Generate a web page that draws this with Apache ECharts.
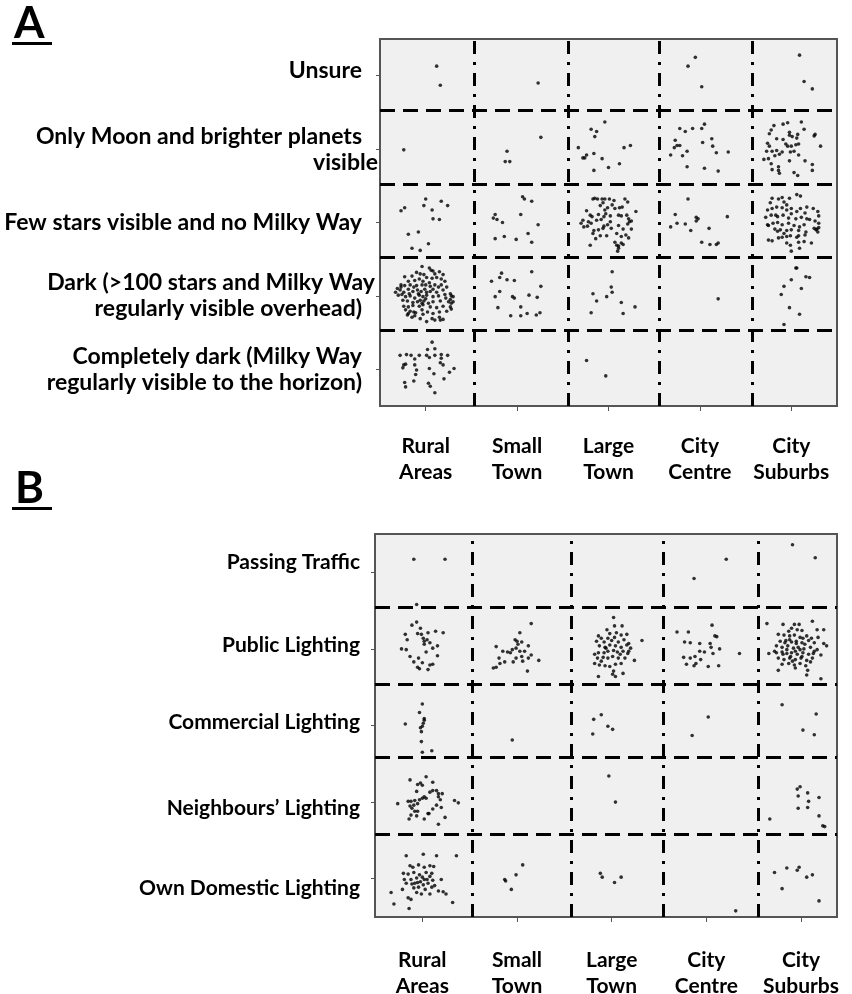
<!DOCTYPE html>
<html><head><meta charset="utf-8">
<script src="https://cdn.jsdelivr.net/npm/echarts@6/dist/echarts.min.js"></script>
<style>html,body{margin:0;padding:0;background:#fff}#c{width:852px;height:994px}</style>
</head><body><div id="c"></div>
<script>
// ---------- categories / labels ----------
const xCategories = ['Rural\nAreas', 'Small\nTown', 'Large\nTown', 'City\nCentre', 'City\nSuburbs'];
const yLabelsA = ['Completely dark (Milky Way\nregularly visible to the horizon)', 'Dark (>100 stars and Milky Way\nregularly visible overhead)', 'Few stars visible and no Milky Way', 'Only Moon and brighter planets\nvisible', 'Unsure'];
const yLabelsB = ['Own Domestic Lighting', 'Neighbours\u2019 Lighting', 'Commercial Lighting', 'Public Lighting', 'Passing Traffic'];
const tickValues = [1, 2, 3, 4, 5];
const colBoundsA = [1.53, 2.56, 3.55, 4.57];
const rowBoundsA = [1.53, 2.53, 3.52, 4.53];
const colBoundsB = [1.535, 2.57, 3.545, 4.555];
const rowBoundsB = [1.58, 2.575, 3.545, 4.555];

// ---------- Panel A points [location (jittered), response (jittered)] ----------
const A_unsure = [[1.12,5.13],[1.16,4.87],[2.23,4.90],[3.95,5.25],[3.87,5.13],[4.02,4.85],[5.09,5.28],[5.14,4.92],[5.23,4.82]];
const A_moon = [[0.76,3.99],[1.89,3.97],[1.87,3.83],[1.92,3.83],[2.26,4.16],
[2.96,4.37],[2.81,4.27],[2.87,4.24],[2.85,4.17],[2.67,4.02],[2.76,3.92],[2.72,3.88],[2.74,3.88],[2.84,3.94],[2.93,3.87],[2.84,3.71],[3.00,3.75],[3.12,3.80],[3.17,4.02],[3.24,4.05],
[3.78,4.28],[3.84,4.24],[3.92,4.28],[4.02,4.28],[4.05,4.34],[3.73,4.12],[3.75,4.05],[3.78,4.05],[3.72,4.02],[3.86,3.97],[3.81,3.91],[3.68,3.92],[4.03,4.09],[4.13,4.14],[4.14,4.04],[4.18,3.95],[4.31,3.96],[3.86,3.76],[4.05,3.74],[4.20,3.70],
[4.78,4.26],[4.76,4.21],[4.81,4.32],[4.91,4.34],[4.96,4.36],[4.98,4.23],[5.01,4.17],[5.07,4.20],[5.06,4.15],[5.11,4.37],[5.14,4.27],[5.08,4.07],[5.26,4.20],[5.25,4.18],[5.32,4.04],[4.74,4.08],[4.76,4.04],[4.73,3.97],[4.79,3.97],[4.84,3.98],[4.82,3.91],[4.94,4.07],[4.96,4.04],[5.00,4.04],[5.05,4.06],[5.03,3.97],[4.99,3.96],[4.90,3.96],[4.87,3.93],[4.70,3.86],[4.75,3.87],[4.78,3.80],[4.79,3.72],[4.86,3.76],[4.86,3.71],[4.87,3.67],[4.98,3.84],[5.03,3.68],[5.07,3.64],[5.15,3.84],[5.23,3.79],[5.23,3.71],[4.98,4.19],[4.91,4.13],[4.84,4.14],[5.08,3.92]];
const A_few = [[0.73,3.16],[0.77,3.20],[1.00,3.32],[0.98,3.23],[1.07,3.17],[1.17,3.29],[1.24,3.23],[1.08,3.05],[1.15,3.04],[0.81,2.84],[0.92,2.87],[1.03,2.71],[0.85,2.65],[0.94,2.62],
[2.06,3.35],[2.08,3.32],[2.16,3.29],[1.76,3.11],[1.74,3.06],[1.78,3.04],[1.84,3.00],[2.04,3.11],[2.23,2.97],[1.86,2.81],[1.76,2.78],[1.99,2.77],[2.12,2.85],[2.16,2.73],
[2.83,3.32],[2.85,3.33],[2.88,3.32],[2.93,3.32],[2.96,3.32],[3.01,3.32],[3.06,3.30],[3.18,3.32],[3.21,3.28],[2.91,3.23],[2.94,3.27],[2.99,3.20],[3.07,3.19],[3.12,3.20],[3.15,3.21],[3.30,3.15],[2.76,3.16],[2.80,3.10],[2.82,3.08],[2.89,3.11],[2.95,3.08],[2.97,3.12],[3.02,3.09],[3.11,3.10],[3.14,3.09],[3.20,3.10],[3.22,3.05],[3.23,3.01],[2.70,2.99],[2.72,3.03],[2.78,3.01],[2.81,2.99],[2.87,3.03],[2.92,3.04],[2.95,2.95],[3.02,3.01],[3.11,2.96],[3.21,2.98],[3.25,3.02],[2.84,2.89],[2.83,2.85],[2.89,2.90],[2.94,2.92],[2.98,2.82],[2.91,2.82],[2.86,2.78],[3.09,2.85],[3.14,2.81],[3.19,2.83],[3.22,2.79],[2.80,2.69],[3.07,2.73],[3.09,2.69],[3.11,2.68],[3.14,2.72],[3.16,2.70],[3.11,2.65],[3.10,2.61],[2.96,3.17],[3.04,3.24],[2.73,2.94],[2.77,2.95],[3.25,2.91],[3.16,2.91],[3.03,2.92],[2.99,2.97],
[3.87,3.32],[3.73,3.11],[3.75,2.99],[3.68,2.94],[3.84,2.98],[3.90,2.89],[3.96,3.07],[3.98,3.05],[3.96,3.02],[4.10,2.92],[4.30,3.08],[4.02,2.73],[4.11,2.70],[4.18,2.70],[4.20,2.72],
[4.79,3.33],[4.86,3.32],[4.90,3.34],[4.98,3.33],[5.06,3.38],[5.10,3.36],[4.92,3.28],[4.95,3.24],[4.77,3.27],[4.74,3.17],[4.79,3.19],[4.84,3.21],[4.90,3.20],[4.95,3.17],[5.00,3.19],[5.10,3.19],[5.17,3.21],[5.24,3.19],[5.29,3.15],[5.30,3.09],[4.72,3.07],[4.78,3.10],[4.85,3.08],[4.91,3.10],[5.00,3.12],[5.05,3.05],[5.11,3.07],[5.17,3.05],[5.20,3.04],[4.75,2.96],[4.80,2.99],[4.85,3.00],[4.90,2.97],[4.97,2.99],[5.03,2.96],[5.09,2.94],[5.14,2.97],[5.26,3.02],[5.30,2.99],[4.85,2.88],[4.88,2.90],[4.92,2.85],[4.95,2.89],[5.00,2.90],[5.08,2.89],[5.16,2.87],[5.25,2.92],[5.27,2.90],[5.29,2.87],[4.75,2.76],[4.79,2.75],[4.95,2.81],[4.99,2.82],[5.06,2.80],[5.08,2.82],[5.15,2.83],[4.95,2.72],[4.99,2.69],[5.08,2.73],[5.22,2.72],[5.00,2.61],[5.09,2.65],[5.28,2.91],[5.30,2.93],[4.83,3.10],[4.97,3.06],[5.06,3.15],[5.15,3.13],[4.90,2.80],[4.82,2.91],[5.14,2.74],[4.74,2.97],[4.86,2.79]];
const A_dark = [[0.96,2.40],[1.04,2.38],[1.06,2.35],[1.08,2.34],[0.90,2.32],[0.94,2.30],[0.98,2.29],[1.10,2.30],[1.15,2.33],[1.19,2.29],[0.85,2.27],[0.77,2.26],[1.01,2.25],[1.07,2.24],[1.12,2.25],[1.17,2.23],[1.21,2.20],[0.81,2.20],[0.88,2.21],[0.93,2.23],[0.73,2.15],[0.77,2.14],[0.83,2.15],[0.90,2.14],[0.96,2.15],[1.00,2.15],[1.05,2.13],[1.10,2.15],[1.17,2.15],[1.23,2.12],[0.69,2.10],[0.67,2.05],[0.72,2.08],[0.76,2.05],[0.81,2.09],[0.86,2.06],[0.91,2.08],[0.95,2.06],[0.99,2.09],[1.05,2.06],[1.12,2.05],[1.19,2.08],[1.27,2.03],[1.28,2.00],[0.70,2.01],[0.74,2.02],[0.78,1.99],[0.83,2.00],[0.88,1.97],[0.93,2.01],[0.97,1.99],[1.01,2.01],[1.08,1.99],[1.14,2.00],[1.22,1.97],[1.27,1.95],[0.75,1.94],[0.80,1.93],[0.86,1.91],[0.91,1.92],[0.94,1.94],[0.98,1.93],[1.03,1.90],[1.08,1.92],[1.16,1.93],[1.25,1.92],[1.28,1.90],[0.76,1.86],[0.81,1.85],[0.86,1.87],[0.93,1.86],[0.97,1.88],[1.05,1.85],[1.12,1.84],[1.19,1.86],[1.27,1.85],[0.78,1.81],[0.83,1.79],[0.89,1.77],[0.96,1.81],[1.02,1.78],[1.08,1.76],[1.15,1.78],[1.23,1.79],[1.28,1.82],[0.80,1.74],[0.85,1.71],[0.97,1.75],[1.07,1.69],[1.15,1.71],[1.19,1.68],[1.01,1.65],[0.81,1.76],[0.88,1.73],[0.94,1.69],[1.10,1.67],[1.16,1.67],[0.87,1.78],[0.73,2.12],[0.92,2.03],[1.01,2.05],[1.14,2.12],[1.30,1.99],[1.30,1.92],[1.00,1.96],[0.96,1.90],[0.82,2.03],[1.21,2.02],[1.08,2.09],[1.04,2.18],[0.97,2.20],[0.87,2.12],
[1.83,2.31],[1.81,2.25],[1.72,2.20],[1.89,2.22],[1.97,2.21],[2.16,2.33],[2.26,2.13],[1.81,2.06],[1.76,1.99],[1.95,1.99],[1.97,1.97],[2.13,2.01],[2.22,1.98],[1.79,1.84],[2.04,1.85],[1.93,1.73],[2.04,1.73],[2.11,1.76],[2.21,1.74],[2.25,1.77],
[2.83,2.03],[2.87,1.93],[2.81,1.77],[2.98,1.99],[3.04,2.33],[3.03,2.12],[3.04,2.05],[3.14,1.91],[3.29,1.85],[3.16,1.76],
[4.20,1.96],
[5.05,2.38],[5.06,2.38],[5.16,2.26],[5.20,2.25],[5.00,2.22],[4.92,2.13],[5.11,2.10],[4.89,2.02],[4.98,1.84],[5.09,1.75],[4.92,1.61]];
const A_complete = [[1.07,1.37],[1.10,1.28],[0.72,1.19],[0.79,1.20],[0.84,1.19],[0.88,1.14],[0.93,1.19],[1.02,1.27],[1.04,1.16],[1.10,1.19],[1.17,1.20],[1.24,1.19],[0.76,1.06],[0.75,1.02],[0.78,1.07],[0.88,1.06],[0.90,0.99],[0.89,0.93],[0.87,0.84],[1.04,1.01],[1.09,0.94],[1.16,1.09],[1.19,1.06],[1.26,0.96],[1.31,1.01],[1.20,0.87],[0.77,0.82],[0.78,0.76],[1.03,0.81],[1.05,0.77],[1.10,0.68],[1.01,1.19],[1.17,1.15],
[2.76,1.12],[2.97,0.91]];

// ---------- Panel B points ----------
const B_traffic = [[0.91,5.17],[1.24,5.17],[4.21,5.17],[3.87,4.92],[4.91,5.36],[5.15,5.19]];
const B_public = [[0.94,4.35],[0.89,4.31],[0.98,4.27],[0.82,4.19],[0.84,4.12],[0.95,4.20],[1.06,4.21],[1.14,4.23],[1.22,4.21],[1.01,4.14],[1.05,4.12],[1.08,4.08],[1.02,4.06],[1.16,4.04],[1.11,4.01],[0.78,4.00],[0.83,3.99],[1.04,3.96],[0.87,3.90],[0.96,3.88],[1.16,3.91],[0.91,3.83],[1.00,3.82],[1.08,3.79],[1.11,3.80],[0.95,3.76],[0.97,3.74],[1.06,3.73],[1.02,4.10],[0.99,4.19],[0.94,4.58],
[2.15,4.33],[2.03,4.21],[1.98,4.12],[2.00,4.10],[2.05,4.09],[1.78,4.03],[1.85,3.97],[1.90,3.96],[1.93,3.95],[1.99,4.01],[2.03,3.97],[2.08,3.97],[2.12,4.04],[2.15,3.92],[2.05,3.90],[1.99,3.88],[1.81,3.88],[1.87,3.83],[1.96,3.83],[2.06,3.84],[2.12,3.88],[2.23,3.85],[1.75,3.75],[1.78,3.76],[2.11,3.71],[1.82,3.81],[2.01,4.06],[1.95,3.99],
[3.02,4.41],[3.03,4.30],[3.11,4.30],[2.95,4.25],[2.86,4.17],[2.89,4.14],[2.96,4.14],[3.03,4.15],[3.10,4.18],[3.16,4.19],[3.32,4.11],[2.84,4.10],[2.92,4.09],[3.00,4.11],[3.07,4.09],[3.13,4.12],[3.18,4.07],[2.87,4.04],[2.93,4.02],[2.98,4.05],[3.04,4.04],[3.10,4.02],[3.16,4.05],[3.20,4.01],[2.82,3.93],[2.86,3.95],[2.92,3.95],[2.96,3.97],[3.02,3.98],[3.06,3.96],[3.12,3.97],[3.17,3.94],[2.85,3.88],[2.91,3.89],[2.96,3.88],[3.01,3.90],[3.07,3.88],[3.14,3.88],[3.24,3.85],[2.82,3.81],[2.87,3.79],[2.93,3.78],[2.98,3.77],[3.04,3.80],[3.10,3.81],[2.86,3.64],[3.01,3.67],[3.04,3.64],[3.12,3.68],[3.02,3.71],[2.94,4.01],[3.09,3.93],[2.89,3.84],[3.18,3.97],[3.05,4.21],[2.98,4.20],
[3.69,4.22],[3.81,4.22],[4.06,4.31],[3.77,4.09],[3.83,4.08],[3.93,4.07],[4.04,4.07],[4.09,4.17],[4.11,4.16],[4.14,4.00],[4.35,3.94],[3.76,3.89],[3.83,3.88],[3.88,3.90],[3.94,3.86],[3.98,3.96],[4.07,3.94],[3.79,3.80],[3.89,3.81],[3.87,3.78],[4.02,3.77],[4.13,3.78],[3.93,3.97],[4.05,4.02],
[5.12,4.36],[4.81,4.32],[4.93,4.32],[4.98,4.32],[4.64,4.33],[4.90,4.27],[4.87,4.23],[4.96,4.25],[5.01,4.24],[5.17,4.25],[5.24,4.25],[4.76,4.19],[4.82,4.18],[4.88,4.17],[4.93,4.18],[4.99,4.15],[5.06,4.17],[5.11,4.14],[5.18,4.15],[4.78,4.10],[4.84,4.11],[4.90,4.09],[4.95,4.10],[5.01,4.08],[5.08,4.11],[5.14,4.08],[5.24,4.07],[5.27,4.04],[4.74,4.04],[4.80,4.02],[4.86,4.04],[4.92,4.01],[4.97,4.02],[5.03,4.00],[5.10,4.02],[5.17,3.99],[4.66,3.94],[4.74,3.95],[4.80,3.96],[4.85,3.94],[4.90,3.95],[4.96,3.93],[5.02,3.95],[5.08,3.93],[5.13,3.94],[5.21,3.92],[4.76,3.88],[4.82,3.86],[4.88,3.88],[4.94,3.86],[5.00,3.88],[5.06,3.85],[5.12,3.88],[4.80,3.80],[4.87,3.81],[4.93,3.79],[4.99,3.81],[5.05,3.78],[4.94,3.75],[5.07,3.72],[4.76,3.72],[5.06,3.66],[5.21,3.61],[4.83,4.08],[5.04,4.06],[4.94,3.97],[4.89,3.90],[4.99,3.99],[4.85,3.99],[5.14,3.97],[4.72,3.97],[5.02,4.14],[4.88,4.12],[4.95,4.07],[5.01,3.90],[4.91,3.84],[4.81,3.93],[5.10,3.83]];
const B_commercial = [[1.00,3.28],[0.97,3.17],[1.02,3.09],[1.02,3.07],[0.82,3.02],[1.00,2.99],[0.98,2.97],[1.01,3.03],[0.99,2.92],[0.99,2.79],[1.00,2.65],[1.10,2.67],
[1.95,2.81],
[2.81,3.08],[2.89,3.14],[2.96,2.99],[2.80,2.89],[3.01,2.95],
[4.02,3.11],[3.85,2.87],
[4.80,3.27],[5.16,3.15],[5.02,2.94],[5.14,2.88]];
const B_neighbours = [[1.04,2.33],[0.87,2.29],[1.11,2.26],[0.95,2.23],[0.98,2.25],[1.00,2.22],[0.94,2.14],[1.08,2.13],[1.11,2.15],[1.15,2.15],[1.17,2.11],[1.21,2.11],[1.02,2.07],[1.00,2.05],[0.97,2.03],[0.92,2.02],[0.88,2.01],[0.85,2.01],[0.74,1.98],[0.87,1.95],[0.91,1.96],[0.95,1.98],[1.15,1.96],[1.19,2.03],[1.34,2.02],[1.38,1.99],[1.11,1.91],[1.06,1.85],[0.95,1.88],[0.92,1.88],[1.20,1.93],[0.88,1.83],[0.86,1.78],[0.94,1.82],[1.02,1.78],[1.07,1.85],[1.24,1.80],[1.17,1.71],[1.17,2.07],[1.04,2.05],[0.89,1.92],
[2.97,2.34],[3.04,2.00],
[4.99,2.20],[4.96,2.17],[4.97,2.08],[5.07,2.12],[5.08,2.01],[5.19,2.06],[4.97,1.92],[5.07,1.93],[5.19,1.82],[5.23,1.69],[5.25,1.68],[4.67,1.78]];
const B_domestic = [[0.83,1.30],[1.01,1.32],[1.15,1.30],[1.36,1.30],[0.87,1.17],[0.90,1.15],[0.96,1.18],[1.02,1.15],[1.08,1.17],[1.12,1.16],[0.80,1.07],[0.85,1.06],[0.91,1.08],[0.97,1.05],[1.04,1.08],[1.10,1.07],[0.81,0.99],[0.88,0.99],[0.94,1.01],[1.00,1.02],[1.05,0.99],[1.11,0.98],[1.20,0.99],[0.83,0.94],[0.89,0.93],[0.95,0.95],[1.01,0.92],[1.06,0.94],[1.13,0.91],[0.91,0.88],[0.96,0.89],[1.03,0.86],[1.10,0.89],[1.17,0.84],[1.22,0.83],[0.94,0.82],[0.99,0.80],[1.08,0.80],[1.25,0.80],[0.67,0.82],[0.79,0.86],[0.70,0.67],[0.85,0.75],[0.88,0.73],[0.86,0.61],[1.32,0.69],[0.98,0.96],[0.92,0.94],[1.02,0.99],[1.08,1.03],
[2.06,1.18],[1.99,1.05],[1.87,0.99],[1.88,0.97],[1.94,0.86],
[2.88,1.07],[2.90,1.02],[3.03,0.95],[3.10,1.02],
[4.31,0.58],
[4.72,1.08],[4.85,1.14],[4.96,1.11],[4.98,1.15],[5.06,1.02],[5.12,1.05],[4.80,0.87],[5.19,0.71]];

// ---------- chart ----------
const FONT = 'Lato';
function lbl(size, lh) { return {fontFamily: FONT, fontWeight: 'bold', fontSize: size, color: '#000', lineHeight: lh}; }
function rs(pad, size) { return Object.assign({align: 'right', padding: pad}, lbl(size, 26)); }
const richA = {
  n: rs([0, 16, 0, 0], 23),
  u: rs([0, 16, 10, 0], 23),
  d: rs([0, 3, 0, 0], 23),
  v: rs([0, 0, 0, 0], 23)
};
const richB = {
  b1: rs([20, 0, 0, 0], 21),
  b2: rs([12, 0, 0, 0], 21),
  b3: rs([0, 0, 6, 0], 21),
  b4: rs([0, 0, 8, 0], 21),
  b5: rs([0, 0, 20, 0], 21)
};
function fmtA(v) {
  const s = yLabelsA[Math.round(v) - 1] || '';
  return s.split('\n').map(function (line) {
    const st = line === 'visible' ? 'v' : (line.indexOf('Dark (') === 0 ? 'd' : (line === 'Unsure' ? 'u' : 'n'));
    return '{' + st + '|' + line + '}';
  }).join('\n');
}
function fmtB(v) {
  const i = Math.round(v);
  return '{b' + i + '|' + (yLabelsB[i - 1] || '') + '}';
}
function xAxisCfg(grid, max, margin) {
  return {
    gridIndex: grid, type: 'value', min: 0.5, max: max,
    axisLine: {show: false}, splitLine: {show: false},
    axisTick: {show: true, customValues: tickValues, length: 5, lineStyle: {color: '#555', width: 1}},
    axisLabel: Object.assign({customValues: tickValues, margin: margin, formatter: function (v) { return xCategories[Math.round(v) - 1]; }}, lbl(21, 26))
  };
}
function yAxisCfg(grid, fmt, margin, rich, size) {
  const lab = Object.assign({customValues: tickValues, margin: margin, align: 'right', formatter: fmt, rich: rich}, lbl(size, 26));
  return {
    gridIndex: grid, type: 'value', min: 0.5, max: 5.5,
    axisLine: {show: false}, splitLine: {show: false},
    axisTick: {show: true, customValues: tickValues, length: 4, lineStyle: {color: '#555', width: 1}},
    axisLabel: lab
  };
}
function boundLines(cols, rows) {
  return cols.map(function (v) { return {xAxis: v, lineStyle: {type: [13, 8, 3, 8]}}; })
    .concat(rows.map(function (v) { return {yAxis: v, lineStyle: {type: [15, 8]}}; }));
}
function scatter(data, idx, mark) {
  const s = {type: 'scatter', xAxisIndex: idx, yAxisIndex: idx, data: data, symbol: 'circle', symbolSize: 3.6,
    itemStyle: {color: '#000'}, silent: true, z: 3};
  if (mark) s.markLine = {silent: true, symbol: ['none', 'none'], label: {show: false}, animation: false,
    lineStyle: {color: '#000', width: 3}, data: mark, z: 2};
  return s;
}

const option = {
  animation: false,
  backgroundColor: '#fff',
  grid: [
    {left: 380, top: 39, width: 457, height: 367, show: true, backgroundColor: '#f0f0f0', borderColor: '#555', borderWidth: 2, containLabel: false, outerBoundsMode: 'none'},
    {left: 375, top: 534, width: 462, height: 383, show: true, backgroundColor: '#f0f0f0', borderColor: '#555', borderWidth: 2, containLabel: false, outerBoundsMode: 'none'}
  ],
  xAxis: [xAxisCfg(0, 5.5, 27), xAxisCfg(1, 5.38, 30)],
  yAxis: [
    yAxisCfg(0, fmtA, 2, richA, 23),
    yAxisCfg(1, fmtB, 15, richB, 21)
  ],
  series: [
    scatter(A_unsure, 0, boundLines(colBoundsA, rowBoundsA)),
    scatter(A_moon, 0), scatter(A_few, 0), scatter(A_dark, 0), scatter(A_complete, 0),
    scatter(B_traffic, 1, boundLines(colBoundsB, rowBoundsB)),
    scatter(B_public, 1), scatter(B_commercial, 1), scatter(B_neighbours, 1), scatter(B_domestic, 1)
  ],
  graphic: [
    {type: 'text', left: 14, top: 2, style: {text: 'A', fontFamily: FONT, fontWeight: 'bold', fontSize: 44, fill: '#000'}},
    {type: 'rect', left: 12, top: 42, shape: {width: 40, height: 3}, style: {fill: '#000'}},
    {type: 'text', left: 15, top: 467, style: {text: 'B', fontFamily: FONT, fontWeight: 'bold', fontSize: 44, fill: '#000'}},
    {type: 'rect', left: 12, top: 507, shape: {width: 40, height: 3}, style: {fill: '#000'}}
  ]
};
const chart = echarts.init(document.getElementById('c'));
chart.setOption(option);
</script>
</body></html>
